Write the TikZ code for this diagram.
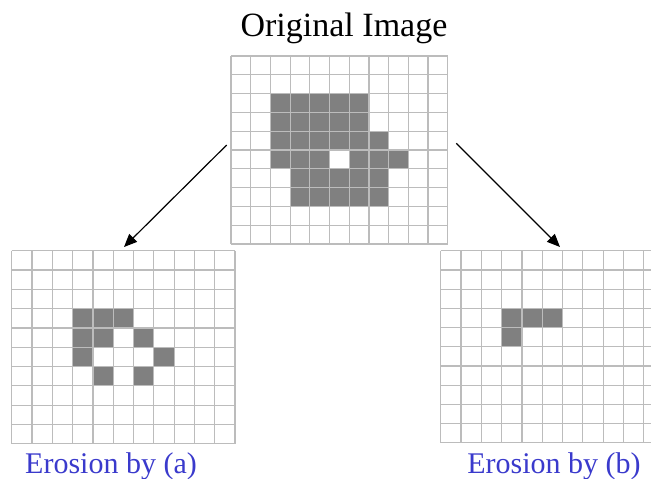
\documentclass[tikz,border=0pt]{standalone}
\usepackage{fontspec}
\setmainfont{Liberation Serif}
\usetikzlibrary{arrows.meta}

\definecolor{gridgray}{HTML}{BCBCBC}
\definecolor{cellgray}{HTML}{808080}
\definecolor{captionblue}{HTML}{3A3ACC}

\tikzset{
  gridline/.style={draw=gridgray, line width=1.2pt},
  pixel/.style={fill=cellgray},
  caption/.style={anchor=base, text=captionblue, font=\fontsize{30}{30}\selectfont},
  morph/.style={-{Triangle[length=13pt, width=11pt]}, line width=1.2pt},
}

\begin{document}
\begin{tikzpicture}[x=1pt, y=-1pt]
  \useasboundingbox (0,0) rectangle (651,479);

  % original image, 11 x 10 pixels
  \begin{scope}[shift={(231,56)}, x=19.7pt, y=-18.8pt]
    \foreach \c/\r in {2/2,3/2,4/2,5/2,6/2, 2/3,3/3,4/3,5/3,6/3,
                       2/4,3/4,4/4,5/4,6/4,7/4, 2/5,3/5,4/5,6/5,7/5,8/5,
                       3/6,4/6,5/6,6/6,7/6, 3/7,4/7,5/7,6/7,7/7}
      \fill[pixel] (\c,\r) rectangle (\c+1,\r+1);
    \foreach \i in {0,...,11}
      \draw[gridline] (\i,0) -- (\i,10);
    \foreach \j in {0,...,10}
      \draw[gridline] (0,\j) -- (11,\j);
  \end{scope}

  % eroded by (a)
  \begin{scope}[shift={(11.7,250.7)}, x=20.3pt, y=-19.3pt]
    \foreach \c/\r in {3/3,4/3,5/3, 3/4,4/4,6/4, 3/5,7/5, 4/6,6/6}
      \fill[pixel] (\c,\r) rectangle (\c+1,\r+1);
    \foreach \i in {0,...,11}
      \draw[gridline] (\i,0) -- (\i,10);
    \foreach \j in {0,...,10}
      \draw[gridline] (0,\j) -- (11,\j);
  \end{scope}

  % eroded by (b)
  \begin{scope}[shift={(440.7,250.7)}, x=20.3pt, y=-19.2pt]
    \foreach \c/\r in {3/3,4/3,5/3, 3/4}
      \fill[pixel] (\c,\r) rectangle (\c+1,\r+1);
    \foreach \i in {0,...,11}
      \draw[gridline] (\i,0) -- (\i,10);
    \foreach \j in {0,...,10}
      \draw[gridline] (0,\j) -- (11,\j);
  \end{scope}

  \node[anchor=base, font=\fontsize{34}{34}\selectfont] (title) at (344,36.7) {Original Image};
  \node[caption] (capa) at (111,473.5) {Erosion by (a)};
  \node[caption] (capb) at (554,473.5) {Erosion by (b)};

  \coordinate (origL) at (226.7,145);
  \coordinate (origR) at (456.3,143.3);
  \coordinate (erodeA) at (124,247);
  \coordinate (erodeB) at (560,247);
  \draw[morph] (origL) -- (erodeA);
  \draw[morph] (origR) -- (erodeB);
\end{tikzpicture}
\end{document}
